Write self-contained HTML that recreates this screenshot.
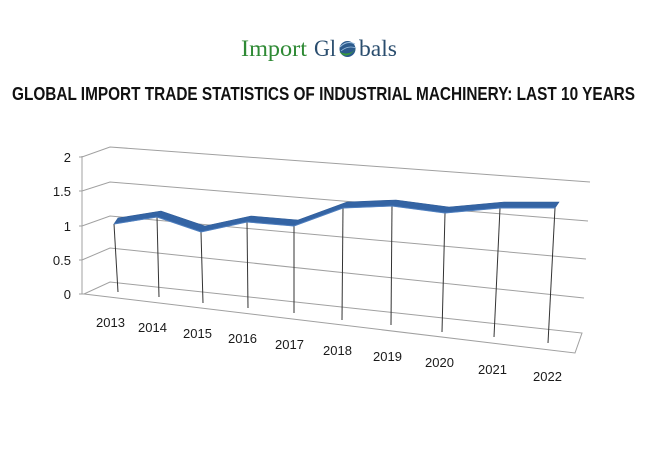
<!DOCTYPE html>
<html><head><meta charset="utf-8"><style>
html,body{margin:0;padding:0;background:#fff;}
svg{display:block;}
</style></head><body>
<svg width="650" height="450" viewBox="0 0 650 450" xmlns="http://www.w3.org/2000/svg">
<rect width="650" height="450" fill="#fff"/>
<!-- Logo -->
<text x="241" y="56" font-family="Liberation Serif, serif" font-size="23" fill="#2f8a35" textLength="66" lengthAdjust="spacingAndGlyphs">Import</text>
<text x="314" y="56" font-family="Liberation Serif, serif" font-size="23" fill="#2a4d6e" textLength="22" lengthAdjust="spacingAndGlyphs">Gl</text>
<g>
<circle cx="347.5" cy="49" r="8" fill="#2b5a8c"/>
<path d="M340,47 Q347,40 355,44" stroke="#9fc0e0" stroke-width="1" fill="none"/>
<path d="M341,51 Q348,45 356,48" stroke="#9fc0e0" stroke-width="0.8" fill="none"/>
<path d="M339.5,52 Q347,61 357,47 Q350,57 339.5,52 Z" fill="#3a9a3a"/>
</g>
<text x="359" y="56" font-family="Liberation Serif, serif" font-size="23" fill="#2a4d6e" textLength="38" lengthAdjust="spacingAndGlyphs">bals</text>
<!-- Title -->
<text x="12" y="100" font-family="Liberation Sans, sans-serif" font-weight="bold" font-size="18" fill="#111" textLength="623" lengthAdjust="spacingAndGlyphs">GLOBAL IMPORT TRADE STATISTICS OF INDUSTRIAL MACHINERY: LAST 10 YEARS</text>
<!-- grid -->
<g stroke="#a0a0a0" stroke-width="1" fill="none">
<polyline points="79,157 82,157 110,147 590,182"/>
<polyline points="79,191 82,191 110,182 588,221"/>
<polyline points="79,226 82,226 110,216 586,259"/>
<polyline points="79,260 82,260 110,248 584,298"/>
<polyline points="79,294 84,294 110,282 582,333 575,353 84,294"/>
<line x1="82" y1="156" x2="82" y2="294"/>
</g>
<!-- drop lines -->
<g stroke="#333" stroke-width="1">
<line x1="114" y1="224" x2="118" y2="292"/>
<line x1="157" y1="217" x2="159" y2="297"/>
<line x1="201" y1="232" x2="203" y2="303"/>
<line x1="247" y1="222" x2="248" y2="308"/>
<line x1="294" y1="226" x2="294" y2="313"/>
<line x1="343" y1="208" x2="342" y2="320"/>
<line x1="392" y1="206" x2="391" y2="325"/>
<line x1="445" y1="213" x2="442" y2="332"/>
<line x1="500" y1="208" x2="494" y2="337"/>
<line x1="555" y1="208" x2="548" y2="343"/>
</g>
<!-- ribbon -->
<polygon fill="#3464a4" stroke="#2d5a96" stroke-width="0.6" points="114,224 157,217 201,232 247,222 294,226 343,208 392,206 445,213 500,208 555,208 559,202 504,202 449,207 396,200 347,202 298,220 251,216 205,226 161,211 118,218"/>
<polyline fill="none" stroke="#4f7fbf" stroke-width="1" points="114,224 157,217 201,232 247,222 294,226 343,208 392,206 445,213 500,208 555,208"/>
<!-- y labels -->
<g font-family="Liberation Sans, sans-serif" font-size="13" fill="#1a1a1a" text-anchor="end">
<text x="71" y="162">2</text>
<text x="71" y="196">1.5</text>
<text x="71" y="231">1</text>
<text x="71" y="265">0.5</text>
<text x="71" y="299">0</text>
</g>
<!-- x labels -->
<g font-family="Liberation Sans, sans-serif" font-size="13" fill="#1a1a1a">
<text x="96" y="327">2013</text>
<text x="138" y="332">2014</text>
<text x="183" y="338">2015</text>
<text x="228" y="343">2016</text>
<text x="275" y="349">2017</text>
<text x="323" y="355">2018</text>
<text x="373" y="361">2019</text>
<text x="425" y="367">2020</text>
<text x="478" y="374">2021</text>
<text x="533" y="381">2022</text>
</g>
</svg>
</body></html>
